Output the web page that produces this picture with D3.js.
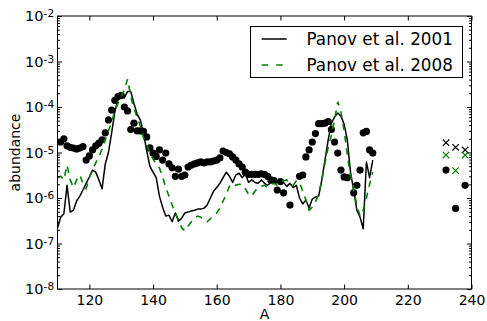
<!DOCTYPE html>
<html><head><meta charset="utf-8">
<script src="https://cdn.jsdelivr.net/npm/d3@7"></script>
<style>html,body{margin:0;padding:0;background:#fff;} svg{display:block;font-family:"DejaVu Sans",sans-serif;}</style>
</head><body><svg id="c" width="487" height="321"></svg>
<script>
// ---- data ----
const massNumbers = [110,111,112,113,114,115,116,117,118,119,120,121,122,123,124,125,126,127,128,129,
  130,131,132,133,134,135,136,137,138,139,140,141,142,143,144,145,146,147,148,149,
  150,151,152,153,154,155,156,157,158,159,160,161,162,163,164,165,166,167,168,169,
  170,171,172,173,174,175,176,177,178,179,180,181,182,183,184,185,186,187,188,189,
  190,191,192,193,194,195,196,197,198,199,200,201,202,203,204,205,206,207,208,209];
const panov2001 = [2.2e-7,3.8e-7,4.5e-7,1.9e-6,4.9e-7,5.4e-7,8.6e-7,1.1e-6,1.5e-6,2.1e-6,
  2.9e-6,4.1e-6,3.7e-6,2.5e-6,1.6e-6,5.6e-6,1.0e-5,2.7e-5,7.8e-5,1.5e-4,
  1.7e-4,1.6e-4,2.2e-4,2.2e-4,1.2e-4,7.0e-5,5.2e-5,2.7e-5,1.1e-5,5.0e-6,
  3.7e-6,2.8e-6,1.1e-6,6.3e-7,4.0e-7,4.2e-7,3.0e-7,4.7e-7,3.1e-7,3.6e-7,
  4.7e-7,4.9e-7,5.2e-7,5.4e-7,5.7e-7,5.7e-7,6.0e-7,7.0e-7,1.0e-6,1.4e-6,
  1.7e-6,2.1e-6,2.8e-6,3.7e-6,3.0e-6,2.2e-6,3.2e-6,3.5e-6,2.8e-6,3.4e-6,
  2.2e-6,2.5e-6,2.2e-6,2.1e-6,2.5e-6,2.1e-6,1.9e-6,2.2e-6,2.4e-6,2.4e-6,
  2.1e-6,2.2e-6,1.8e-6,2.1e-6,1.7e-6,1.9e-6,1.0e-6,7.4e-7,9.0e-7,6.0e-7,
  9.5e-7,1.05e-6,1.1e-6,2.5e-6,6.8e-6,1.9e-5,4.4e-5,6.0e-5,7.4e-5,6.3e-5,
  4.2e-5,1.9e-5,3.7e-6,1.5e-6,5.4e-7,3.8e-7,2.1e-7,6.2e-6,2.8e-6,6.8e-6];
const panov2008 = [2.8e-6,3.0e-6,2.5e-6,5.3e-6,2.5e-6,1.7e-6,2.5e-6,3.2e-6,2.1e-6,1.6e-6,
  2.8e-6,4.1e-6,5.9e-6,8.0e-6,1.2e-5,1.9e-5,3.0e-5,4.7e-5,8.2e-5,1.2e-4,
  1.7e-4,2.4e-4,4.1e-4,1.7e-4,9.5e-5,6.0e-5,3.8e-5,2.1e-5,1.5e-5,9.7e-6,
  7.2e-6,5.6e-6,4.6e-6,2.9e-6,1.7e-6,1.1e-6,7.0e-7,4.7e-7,3.3e-7,2.2e-7,
  1.9e-7,2.4e-7,3.0e-7,3.6e-7,4.0e-7,3.8e-7,3.3e-7,3.0e-7,3.5e-7,4.0e-7,
  4.7e-7,6.0e-7,8.6e-7,1.2e-6,1.8e-6,2.1e-6,1.9e-6,2.0e-6,2.0e-6,1.6e-6,
  1.2e-6,1.1e-6,1.4e-6,1.7e-6,1.8e-6,1.9e-6,1.7e-6,2.0e-6,2.1e-6,1.9e-6,
  2.1e-6,2.4e-6,2.5e-6,2.2e-6,1.9e-6,2.4e-6,2.2e-6,1.4e-6,9.0e-7,5.4e-7,
  6.3e-7,8.2e-7,1.2e-6,2.5e-6,5.9e-6,1.3e-5,2.4e-5,5.2e-5,1.3e-4,7.8e-5,
  3.1e-5,8.8e-6,3.2e-6,1.5e-6,7.0e-7,4.0e-7,5.4e-7,1.0e-6,2.0e-6,3.7e-6];
const obsA = [111,112,113,114,115,116,117,118,119,120,121,122,123,124,125,126,127,128,129,130,
  131,132,133,134,135,136,137,138,139,140,141,142,143,144,145,146,147,148,149,150,
  151,152,153,154,155,156,157,158,159,160,161,162,163,164,165,166,167,168,169,170,
  171,172,173,174,175,176,177,178,179,180,181,183,186,187,188,189,190,191,192,193,
  194,195,196,197,198,199,200,201,203,204,205,206,207,208,209];
const obsAbund = [1.7e-5,2.0e-5,1.4e-5,1.3e-5,1.25e-5,1.2e-5,1.25e-5,1.35e-5,6.8e-6,8.4e-6,
  1.14e-5,1.4e-5,1.6e-5,1.9e-5,2.7e-5,5.2e-5,8.6e-5,1.4e-4,1.7e-4,1.8e-4,
  1.0e-4,8.2e-5,3.2e-5,4.4e-5,3.0e-5,3.0e-5,2.9e-5,2.2e-5,1.26e-5,9.7e-6,
  8.2e-6,1.14e-5,6.8e-6,9.7e-6,5.6e-6,4.6e-6,3.0e-6,4.3e-6,3.0e-6,3.2e-6,
  4.8e-6,5.3e-6,5.6e-6,5.9e-6,6.2e-6,5.9e-6,6.2e-6,6.2e-6,6.5e-6,6.8e-6,
  7.6e-6,1.08e-5,1.0e-5,9.3e-6,8.0e-6,6.8e-6,5.6e-6,4.8e-6,3.7e-6,3.3e-6,
  3.3e-6,3.3e-6,3.3e-6,3.4e-6,3.3e-6,3.0e-6,2.5e-6,2.4e-6,1.5e-6,2.3e-6,
  1.3e-6,7.0e-7,3.0e-6,3.2e-6,8.0e-6,1.14e-5,1.7e-5,2.6e-5,4.3e-5,4.3e-5,
  4.4e-5,4.8e-5,3.2e-5,1.7e-5,9.7e-6,4.1e-6,2.9e-6,2.8e-6,1.3e-6,1.9e-6,
  4.1e-6,2.7e-5,2.9e-5,1.14e-5,9.7e-6];
const actA = [232,235,238];
const act2001 = [1.64e-5,1.3e-5,1.14e-5];
const act2008 = [8.8e-6,4.0e-6,8.8e-6];
const actObs = [4.1e-6,5.9e-7,1.9e-6];
const xTicks = [120,140,160,180,200,220,240];
const yTickExps = [-8,-7,-6,-5,-4,-3,-2];
const legendLabels = ["Panov et al. 2001","Panov et al. 2008"];

// ---- layout ----
const L=57.5, R=471.5, T=16, B=289;
const GREEN = "#008000";
const svg = d3.select("#c");
const x = d3.scaleLinear().domain([110,240]).range([L,R]);
const y = d3.scaleLog().domain([1e-8,1e-2]).range([B,T]);

svg.append("defs").append("clipPath").attr("id","clip")
  .append("rect").attr("x",L).attr("y",T).attr("width",R-L).attr("height",B-T);

const plot = svg.append("g").attr("clip-path","url(#clip)");

// observed dots
plot.selectAll("circle.obs").data(obsA.map((a,i)=>[a,obsAbund[i]])).enter()
  .append("circle").attr("class","obs")
  .attr("cx",d=>x(d[0])).attr("cy",d=>y(d[1])).attr("r",3.6).attr("fill","#000");

const line = d3.line().x(d=>x(d[0])).y(d=>y(d[1]));
plot.append("path").datum(massNumbers.map((a,i)=>[a,panov2001[i]]))
  .attr("d",line).attr("fill","none").attr("stroke","#000").attr("stroke-width",1.5)
  .attr("stroke-linejoin","round");
plot.append("path").datum(massNumbers.map((a,i)=>[a,panov2008[i]]))
  .attr("d",line).attr("fill","none").attr("stroke",GREEN).attr("stroke-width",1.6)
  .attr("stroke-dasharray","6.5,6");

// actinide points
plot.selectAll("circle.act").data(actA.map((a,i)=>[a,actObs[i]])).enter()
  .append("circle").attr("class","act")
  .attr("cx",d=>x(d[0])).attr("cy",d=>y(d[1])).attr("r",3.6).attr("fill","#000");
function crosses(vals,color){
  const s=3.2;
  plot.selectAll(null).data(actA.map((a,i)=>[a,vals[i]])).enter()
    .append("path")
    .attr("d",d=>{const cx=x(d[0]),cy=y(d[1]);return `M${cx-s},${cy-s}L${cx+s},${cy+s}M${cx-s},${cy+s}L${cx+s},${cy-s}`;})
    .attr("stroke",color).attr("stroke-width",1.2).attr("fill","none");
}
crosses(act2001,"#000");
crosses(act2008,GREEN);

// ---- axes ----
const minor=[];
for(const e of yTickExps.slice(0,-1)) for(let m=2;m<=9;m++) minor.push(m*Math.pow(10,e));
const major = yTickExps.map(e=>Math.pow(10,e));

function styleAxis(g){ g.select(".domain").remove(); g.selectAll(".tick line").attr("stroke","#000").attr("stroke-width",1); }

svg.append("g").attr("transform",`translate(0,${B})`)
  .call(d3.axisBottom(x).tickValues(xTicks).tickSizeInner(-4.5).tickSizeOuter(0).tickPadding(6.4).tickFormat(d3.format("d")))
  .call(styleAxis)
  .call(g=>g.selectAll("text").attr("font-size",14).attr("font-family","DejaVu Sans").attr("fill","#000"));
svg.append("g").attr("transform",`translate(0,${T})`)
  .call(d3.axisTop(x).tickValues(xTicks).tickSizeInner(-4.5).tickSizeOuter(0).tickFormat(""))
  .call(styleAxis);
svg.append("g").attr("transform",`translate(${L},0)`)
  .call(d3.axisLeft(y).tickValues(major).tickSizeInner(-4.5).tickSizeOuter(0).tickFormat(""))
  .call(styleAxis);
svg.append("g").attr("transform",`translate(${L},0)`)
  .call(d3.axisLeft(y).tickValues(minor).tickSizeInner(-2.5).tickSizeOuter(0).tickFormat(""))
  .call(styleAxis);
svg.append("g").attr("transform",`translate(${R},0)`)
  .call(d3.axisRight(y).tickValues(major).tickSizeInner(-4.5).tickSizeOuter(0).tickFormat(""))
  .call(styleAxis);
svg.append("g").attr("transform",`translate(${R},0)`)
  .call(d3.axisRight(y).tickValues(minor).tickSizeInner(-2.5).tickSizeOuter(0).tickFormat(""))
  .call(styleAxis);

// frame
svg.append("rect").attr("x",L).attr("y",T).attr("width",R-L).attr("height",B-T)
  .attr("fill","none").attr("stroke","#000").attr("stroke-width",1);

// y tick labels (10^e)
const yl = svg.append("g");
yTickExps.forEach(e=>{
  const ty = y(Math.pow(10,e));
  yl.append("text").attr("x",43.5).attr("y",ty+5.3).attr("text-anchor","end")
    .attr("font-size",14.5).text("10");
  yl.append("text").attr("x",43.6).attr("y",ty+1.2).attr("text-anchor","start")
    .attr("font-size",10.5).text("-"+Math.abs(e));
});

// axis titles
svg.append("text").attr("x",(L+R)/2).attr("y",318.5).attr("text-anchor","middle")
  .attr("font-size",14).text("A");
svg.append("text").attr("transform",`translate(19.5,${(T+B)/2}) rotate(-90)`)
  .attr("text-anchor","middle").attr("font-size",14).text("abundance");

// legend
const lg = svg.append("g");
lg.append("rect").attr("x",250.5).attr("y",26.5).attr("width",212).attr("height",51)
  .attr("fill","#fff").attr("stroke","#000").attr("stroke-width",1);
const legendStyles = [{c:"#000",d:null,w:1.5},{c:GREEN,d:"6.5,8",w:1.6}];
legendLabels.forEach((lab,i)=>{
  const ly = 39 + i*26;
  lg.append("line").attr("x1",261.7).attr("x2",286.7).attr("y1",ly).attr("y2",ly)
    .attr("stroke",legendStyles[i].c).attr("stroke-width",legendStyles[i].w)
    .attr("stroke-dasharray",legendStyles[i].d);
  lg.append("text").attr("x",306.5).attr("y",ly+6.3).attr("font-size",16.8).text(lab);
});
</script></body></html>
